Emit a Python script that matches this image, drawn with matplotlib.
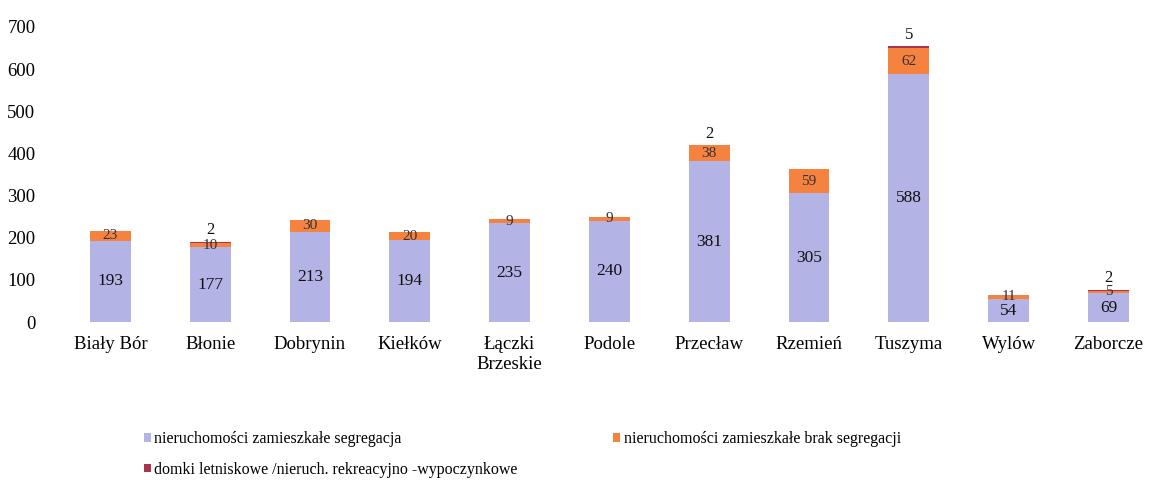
import matplotlib
matplotlib.use('Agg')
import matplotlib.pyplot as plt
import numpy as np

plt.rcParams['font.family'] = ['Liberation Serif', 'DejaVu Serif']

categories = ['Biały Bór', 'Błonie', 'Dobrynin', 'Kiełków', 'Łączki\nBrzeskie',
              'Podole', 'Przecław', 'Rzemień', 'Tuszyma', 'Wylów', 'Zaborcze']
segregacja = [193, 177, 213, 194, 235, 240, 381, 305, 588, 54, 69]
brak_segregacji = [23, 10, 30, 20, 9, 9, 38, 59, 62, 11, 5]
domki = [0, 2, 0, 0, 0, 0, 2, 0, 5, 0, 2]

labels = ['nieruchomości zamieszkałe segregacja',
          'nieruchomości zamieszkałe brak segregacji',
          'domki letniskowe /nieruch. rekreacyjno -wypoczynkowe']
colors = ['#b3b3e6', '#f5823f', '#a8354c']

fig = plt.figure(figsize=(11.63, 4.8), dpi=100)
ax = fig.add_axes([0.052, 0.329, 0.944, 0.615])

x = np.arange(len(categories))
w = 0.41
seg = np.array(segregacja)
brak = np.array(brak_segregacji)
dom = np.array(domki)

b1 = ax.bar(x, seg, w, color=colors[0], label=labels[0])
b2 = ax.bar(x, brak, w, bottom=seg, color=colors[1], label=labels[1])
b3 = ax.bar(x, dom, w, bottom=seg + brak, color=colors[2], label=labels[2])

for i in range(len(x)):
    ax.text(x[i], seg[i] / 2, str(seg[i]), ha='center', va='center', fontsize=12.5, color='#111111')
    ax.text(x[i], seg[i] + brak[i] / 2, str(brak[i]), ha='center', va='center', fontsize=11, color='#333333')
    if dom[i] > 0:
        # small segments: put label above the bar, clear of the orange label
        off = 10 if brak[i] < 15 else 6
        ax.text(x[i], seg[i] + brak[i] + dom[i] + off, str(dom[i]), ha='center', va='bottom', fontsize=12, color='#111111')

ax.set_xlim(-0.5, len(x) - 0.5)
ax.set_ylim(0, 700)
ax.set_yticks(range(0, 701, 100))
ax.set_xticks(x)
ax.set_xticklabels(categories, fontsize=13.5)
ax.tick_params(axis='y', labelsize=13.5, length=0, pad=18)
ax.tick_params(axis='x', length=0, pad=10)
for s in ax.spines.values():
    s.set_visible(False)

# row-major order: seg, brak on first row, domki on second
fig.legend(handles=[b1, b3, b2], labels=[labels[0], labels[2], labels[1]],
           loc='upper left', bbox_to_anchor=(0.118, 0.115),
           ncol=2, frameon=False, fontsize=11.5, handlelength=0.45, handleheight=0.45,
           handletextpad=0.2, columnspacing=6.0, labelspacing=0.9, borderaxespad=0)

fig.savefig('out.png', dpi=100)
